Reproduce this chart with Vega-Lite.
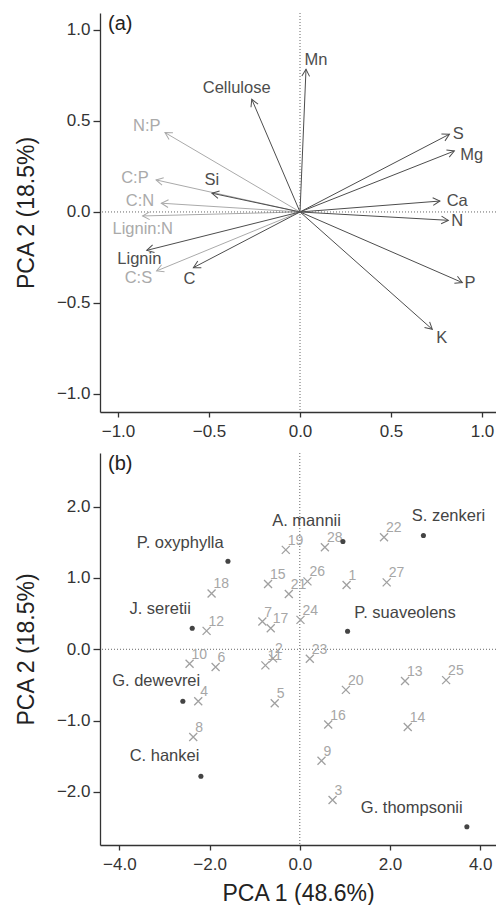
{
  "$schema": "https://vega.github.io/schema/vega-lite/v6.json",
  "padding": {"left": 15, "top": 12, "right": 0, "bottom": 0},
  "spacing": 13,
  "config": {
    "view": {"stroke": null},
    "font": "Liberation Sans",
    "axis": {"grid": false, "domainColor": "#333333", "domainWidth": 1.3, "tickColor": "#333333", "tickWidth": 1.3, "labelFontSize": 17, "labelColor": "#333333", "labelFont": "Liberation Sans", "titleFont": "Liberation Sans", "titleFontSize": 23, "titleFontWeight": "normal", "titleColor": "#222222"},
    "axisX": {"tickSize": 5, "labelPadding": 6, "titlePadding": 10},
    "axisY": {"tickSize": 7, "labelPadding": 3, "titlePadding": 18}
  },
  "datasets": {
    "loadings": [
      {"var": "N:P", "grp": "ratio", "x": -0.742, "y": 0.436, "lx": -0.842, "ly": 0.473},
      {"var": "C:P", "grp": "ratio", "x": -0.791, "y": 0.176, "lx": -0.907, "ly": 0.188},
      {"var": "C:N", "grp": "ratio", "x": -0.762, "y": 0.048, "lx": -0.879, "ly": 0.06},
      {"var": "Lignin:N", "grp": "ratio", "x": -0.865, "y": -0.022, "lx": -0.864, "ly": -0.095},
      {"var": "C:S", "grp": "ratio", "x": -0.788, "y": -0.324, "lx": -0.888, "ly": -0.364},
      {"var": "Mn", "grp": "element", "x": 0.033, "y": 0.784, "lx": 0.088, "ly": 0.835},
      {"var": "Cellulose", "grp": "element", "x": -0.265, "y": 0.619, "lx": -0.348, "ly": 0.683},
      {"var": "Si", "grp": "element", "x": -0.484, "y": 0.103, "lx": -0.485, "ly": 0.176},
      {"var": "S", "grp": "element", "x": 0.821, "y": 0.427, "lx": 0.87, "ly": 0.427},
      {"var": "Mg", "grp": "element", "x": 0.848, "y": 0.335, "lx": 0.943, "ly": 0.313},
      {"var": "Ca", "grp": "element", "x": 0.769, "y": 0.06, "lx": 0.864, "ly": 0.06},
      {"var": "N", "grp": "element", "x": 0.815, "y": -0.046, "lx": 0.864, "ly": -0.049},
      {"var": "Lignin", "grp": "element", "x": -0.842, "y": -0.211, "lx": -0.883, "ly": -0.257},
      {"var": "C", "grp": "element", "x": -0.586, "y": -0.306, "lx": -0.608, "ly": -0.366},
      {"var": "P", "grp": "element", "x": 0.892, "y": -0.388, "lx": 0.934, "ly": -0.392},
      {"var": "K", "grp": "element", "x": 0.727, "y": -0.645, "lx": 0.779, "ly": -0.69}
    ],
    "plots": [
      {"id": "1", "x": 1.037, "y": 0.901},
      {"id": "2", "x": -0.593, "y": -0.127},
      {"id": "3", "x": 0.726, "y": -2.113},
      {"id": "4", "x": -2.252, "y": -0.728},
      {"id": "5", "x": -0.556, "y": -0.756},
      {"id": "6", "x": -1.867, "y": -0.249},
      {"id": "7", "x": -0.83, "y": 0.389},
      {"id": "8", "x": -2.363, "y": -1.231},
      {"id": "9", "x": 0.481, "y": -1.563},
      {"id": "10", "x": -2.444, "y": -0.203},
      {"id": "11", "x": -0.763, "y": -0.226},
      {"id": "12", "x": -2.067, "y": 0.258},
      {"id": "13", "x": 2.333, "y": -0.446},
      {"id": "14", "x": 2.393, "y": -1.09},
      {"id": "15", "x": -0.704, "y": 0.915},
      {"id": "16", "x": 0.63, "y": -1.056},
      {"id": "17", "x": -0.644, "y": 0.296},
      {"id": "18", "x": -1.956, "y": 0.783},
      {"id": "19", "x": -0.311, "y": 1.394},
      {"id": "20", "x": 1.022, "y": -0.569},
      {"id": "21", "x": -0.244, "y": 0.775},
      {"id": "22", "x": 1.867, "y": 1.572},
      {"id": "23", "x": 0.222, "y": -0.132},
      {"id": "24", "x": 0.015, "y": 0.413},
      {"id": "25", "x": 3.244, "y": -0.432},
      {"id": "26", "x": 0.17, "y": 0.952},
      {"id": "27", "x": 1.926, "y": 0.938},
      {"id": "28", "x": 0.556, "y": 1.431}
    ],
    "species": [
      {"name": "P. oxyphylla", "x": -1.593, "y": 1.234, "lx": -2.651, "ly": 1.493},
      {"name": "A. mannii", "x": 0.956, "y": 1.511, "lx": 0.149, "ly": 1.793},
      {"name": "S. zenkeri", "x": 2.741, "y": 1.596, "lx": 3.296, "ly": 1.863},
      {"name": "J. seretii", "x": -2.385, "y": 0.296, "lx": -3.096, "ly": 0.563},
      {"name": "P. suaveolens", "x": 1.059, "y": 0.253, "lx": 2.333, "ly": 0.515},
      {"name": "G. dewevrei", "x": -2.593, "y": -0.728, "lx": -3.184, "ly": -0.446},
      {"name": "C. hankei", "x": -2.193, "y": -1.78, "lx": -3.0, "ly": -1.503},
      {"name": "G. thompsonii", "x": 3.704, "y": -2.489, "lx": 2.482, "ly": -2.231}
    ]
  },
  "vconcat": [
    {
      "width": 396,
      "height": 399,
      "layer": [
        {
          "data": {"name": "loadings"},
          "mark": {"type": "rule", "strokeWidth": 1},
          "encoding": {
            "x": {"field": "x", "type": "quantitative", "scale": {"domain": [-1.099, 1.077], "nice": false, "zero": false}, "axis": {"values": [-1, -0.5, 0, 0.5, 1], "format": ".1f", "title": null}},
            "y": {"field": "y", "type": "quantitative", "scale": {"domain": [-1.099, 1.093], "nice": false, "zero": false}, "axis": {"values": [-1, -0.5, 0, 0.5, 1], "format": ".1f", "title": "PCA 2 (18.5%)"}},
            "x2": {"datum": 0},
            "y2": {"datum": 0},
            "color": {"field": "grp", "type": "nominal", "scale": {"domain": ["ratio", "element"], "range": ["#aaaaaa", "#4d4d4d"]}, "legend": null}
          }
        },
        {
          "data": {"values": [{}]},
          "mark": {"type": "rule", "strokeDash": [1, 2], "color": "#666666", "strokeWidth": 1},
          "encoding": {"x": {"datum": 0, "type": "quantitative"}}
        },
        {
          "data": {"values": [{}]},
          "mark": {"type": "rule", "strokeDash": [1, 2], "color": "#666666", "strokeWidth": 1},
          "encoding": {"y": {"datum": 0, "type": "quantitative"}}
        },
        {
          "data": {"name": "loadings"},
          "mark": {"type": "point", "shape": "M-1,-0.55L0,0L-1,0.55", "filled": false, "size": 196, "strokeWidth": 1, "opacity": 1, "angle": {"expr": "atan2(-datum.y, datum.x)*180/PI"}},
          "encoding": {
            "x": {"field": "x", "type": "quantitative"},
            "y": {"field": "y", "type": "quantitative"},
            "color": {"field": "grp", "type": "nominal", "legend": null}
          }
        },
        {
          "data": {"name": "loadings"},
          "mark": {"type": "text", "fontSize": 16.5, "align": "center", "baseline": "middle"},
          "encoding": {
            "x": {"field": "lx", "type": "quantitative"},
            "y": {"field": "ly", "type": "quantitative"},
            "text": {"field": "var"},
            "color": {"field": "grp", "type": "nominal", "legend": null}
          }
        },
        {
          "data": {"values": [{}]},
          "mark": {"type": "text", "fontSize": 20, "align": "left", "baseline": "top", "dx": 8, "dy": 1, "color": "#222222"},
          "encoding": {
            "x": {"datum": -1.099, "type": "quantitative"},
            "y": {"datum": 1.093, "type": "quantitative"},
            "text": {"value": "(a)"}
          }
        }
      ]
    },
    {
      "width": 396,
      "height": 392,
      "layer": [
        {
          "data": {"values": [{}]},
          "mark": {"type": "rule", "strokeDash": [1, 2], "color": "#666666", "strokeWidth": 1},
          "encoding": {"x": {"datum": 0, "type": "quantitative", "scale": {"domain": [-4.43, 4.35], "nice": false, "zero": false}, "axis": {"values": [-4, -2, 0, 2, 4], "format": ".1f", "title": "PCA 1 (48.6%)"}}}
        },
        {
          "data": {"values": [{}]},
          "mark": {"type": "rule", "strokeDash": [1, 2], "color": "#666666", "strokeWidth": 1},
          "encoding": {"y": {"datum": 0, "type": "quantitative", "scale": {"domain": [-2.745, 2.753], "nice": false, "zero": false}, "axis": {"values": [-2, -1, 0, 1, 2], "format": ".1f", "title": "PCA 2 (18.5%)"}}}
        },
        {
          "data": {"name": "plots"},
          "mark": {"type": "point", "shape": "M-1,-1L1,1M-1,1L1,-1", "filled": false, "size": 64, "strokeWidth": 1.3, "color": "#a0a0a0", "opacity": 1},
          "encoding": {
            "x": {"field": "x", "type": "quantitative"},
            "y": {"field": "y", "type": "quantitative"}
          }
        },
        {
          "data": {"name": "plots"},
          "mark": {"type": "text", "fontSize": 14, "align": "left", "baseline": "alphabetic", "dx": 2, "dy": -5, "color": "#a6a6a6"},
          "encoding": {
            "x": {"field": "x", "type": "quantitative"},
            "y": {"field": "y", "type": "quantitative"},
            "text": {"field": "id"}
          }
        },
        {
          "data": {"name": "species"},
          "mark": {"type": "point", "shape": "circle", "filled": true, "size": 26, "color": "#444444", "opacity": 1},
          "encoding": {
            "x": {"field": "x", "type": "quantitative"},
            "y": {"field": "y", "type": "quantitative"}
          }
        },
        {
          "data": {"name": "species"},
          "mark": {"type": "text", "fontSize": 16.5, "align": "center", "baseline": "middle", "color": "#444444"},
          "encoding": {
            "x": {"field": "lx", "type": "quantitative"},
            "y": {"field": "ly", "type": "quantitative"},
            "text": {"field": "name"}
          }
        },
        {
          "data": {"values": [{}]},
          "mark": {"type": "text", "fontSize": 20, "align": "left", "baseline": "top", "dx": 8, "dy": 1, "color": "#222222"},
          "encoding": {
            "x": {"datum": -4.43, "type": "quantitative"},
            "y": {"datum": 2.753, "type": "quantitative"},
            "text": {"value": "(b)"}
          }
        }
      ]
    }
  ]
}
